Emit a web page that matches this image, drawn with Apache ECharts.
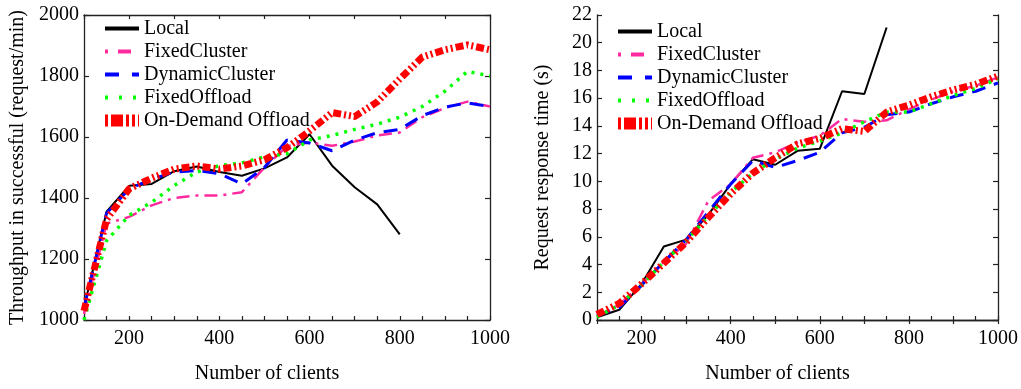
<!DOCTYPE html>
<html>
<head>
<meta charset="utf-8">
<script src="https://cdn.jsdelivr.net/npm/echarts@6/dist/echarts.min.js"></script>
<style>
  html, body { margin: 0; padding: 0; background: #fff; }
  #chart { width: 1021px; height: 389px; }
</style>
</head>
<body>
<div id="chart"></div>
<script>
// x values (number of clients)
const clients = [100, 150, 200, 250, 300, 350, 400, 450, 500, 550, 600, 650, 700, 750, 800, 850, 900, 950, 1000];

// left: throughput (request/min)
const tpLocal = [1040, 1355, 1440, 1446, 1488, 1503, 1485, 1473, 1497, 1533, 1609, 1506, 1435, 1379, 1281];
const tpFixedCluster = [1020, 1316, 1338, 1376, 1400, 1408, 1408, 1419, 1500, 1570, 1582, 1571, 1585, 1605, 1615, 1665, 1695, 1716, 1700];
const tpDynamicCluster = [1040, 1350, 1430, 1462, 1485, 1490, 1480, 1446, 1500, 1590, 1580, 1555, 1590, 1614, 1625, 1670, 1698, 1712, 1700];
const tpFixedOffload = [1000, 1260, 1343, 1386, 1441, 1485, 1506, 1515, 1535, 1545, 1590, 1605, 1625, 1642, 1665, 1700, 1750, 1815, 1800];
const tpOnDemand = [1030, 1330, 1430, 1465, 1495, 1505, 1495, 1505, 1525, 1565, 1620, 1680, 1667, 1715, 1790, 1862, 1886, 1902, 1886];

// right: request response time (s)
const rtLocal = [0.2, 0.74, 2.6, 5.3, 5.8, 7.6, 9.8, 11.6, 11.2, 12.2, 12.35, 16.5, 16.3, 21.1];
const rtFixedCluster = [0.3, 1.1, 2.6, 4.2, 5.5, 8.6, 9.8, 11.7, 12.1, 12.8, 13.3, 14.5, 14.3, 14.4, 15.2, 15.9, 16.5, 16.9, 17.5];
const rtDynamicCluster = [0.3, 0.9, 2.5, 4.2, 5.8, 7.8, 9.8, 11.5, 11.0, 11.5, 12.1, 13.5, 13.9, 14.8, 15.0, 15.6, 16.1, 16.5, 17.1];
const rtFixedOffload = [0.2, 1.1, 2.5, 4.2, 5.7, 7.5, 9.2, 10.6, 11.6, 12.4, 12.9, 13.5, 14.3, 15.0, 15.0, 15.6, 16.2, 16.7, 17.4];
const rtOnDemand = [0.4, 1.2, 2.6, 4.1, 5.6, 7.4, 9.1, 10.6, 11.7, 12.7, 13.1, 13.8, 13.6, 15.0, 15.5, 16.1, 16.6, 17.0, 17.6];

const names = ['Local', 'FixedCluster', 'DynamicCluster', 'FixedOffload', 'On-Demand Offload'];

const FONT = 'Liberation Serif';

// line styles, same order as names
const styles = [
  { color: '#000000', width: 2, type: 'solid' },
  { color: '#ff2aa0', width: 2.5, type: [13, 6, 3, 6] },
  { color: '#0000ff', width: 3, type: [14, 9] },
  { color: '#00ff00', width: 3.5, type: [3, 6] },
  { color: '#ff0000', width: 7, type: [8, 3, 2, 3, 2, 3] }
];

// legend samples are drawn a bit heavier, like the original
const legendStyles = [
  { width: 4, type: 'solid' },
  { width: 4, type: [3, 10, 13, 10] },
  { width: 4, type: [14, 13] },
  { width: 4, type: [3, 11] },
  { width: 12, type: [3, 3, 12, 3, 3, 3] }
];

const pairs = (vals) => vals.map((v, i) => [clients[i], v]);

const chart = echarts.init(document.getElementById('chart'));

const axisLine = { show: true, lineStyle: { color: '#222', width: 1.3 } };

function bottomX(gridIndex) {
  return {
    type: 'value', gridIndex, min: 100, max: 1000, interval: 50,
    position: 'bottom',
    name: 'Number of clients', nameLocation: 'middle', nameGap: 44,
    nameTextStyle: { fontFamily: FONT, fontSize: 20, color: '#000', padding: [0, 40, 0, 0] },
    axisLine,
    axisTick: { show: true, inside: true, length: 4, lineStyle: { color: '#222', width: 1.2 } },
    axisLabel: {
      fontFamily: FONT, fontSize: 20, color: '#000', margin: 9,
      formatter: (v) => (v % 200 === 0 ? String(v) : '')
    },
    splitLine: { show: false }
  };
}

function topX(gridIndex) {
  return {
    type: 'value', gridIndex, min: 100, max: 1000, interval: 100,
    position: 'top',
    axisLine,
    axisTick: { show: true, inside: true, length: 4, lineStyle: { color: '#222', width: 1.2 } },
    axisLabel: { show: false },
    splitLine: { show: false }
  };
}

function leftY(gridIndex, min, max, interval, name, nameGap) {
  return {
    type: 'value', gridIndex, min, max, interval,
    position: 'left',
    name, nameLocation: 'middle', nameGap,
    nameTextStyle: { fontFamily: FONT, fontSize: 20, color: '#000' },
    axisLine,
    axisTick: { show: true, inside: true, length: 5, lineStyle: { color: '#222', width: 1.2 } },
    axisLabel: { fontFamily: FONT, fontSize: 20, color: '#000', margin: 5, formatter: (v) => String(v) },
    splitLine: { show: false }
  };
}

function rightY(gridIndex, min, max, interval) {
  return {
    type: 'value', gridIndex, min, max, interval,
    position: 'right',
    axisLine,
    axisTick: { show: true, inside: true, length: 5, lineStyle: { color: '#222', width: 1.2 } },
    axisLabel: { show: false },
    splitLine: { show: false }
  };
}

function makeSeries(xIdx, yIdx, datasets) {
  return datasets.map((vals, i) => ({
    name: names[i],
    type: 'line',
    xAxisIndex: xIdx,
    yAxisIndex: yIdx,
    data: pairs(vals),
    symbol: 'none',
    smooth: false,
    animation: false,
    z: 2 + i,
    lineStyle: { color: styles[i].color, width: styles[i].width, type: styles[i].type, cap: 'butt' },
    itemStyle: { color: styles[i].color }
  }));
}

function legendAt(left, top) {
  return {
    orient: 'vertical',
    left, top,
    itemWidth: 34,
    itemHeight: 14,
    itemGap: 0,
    padding: 0,
    selectedMode: false,
    textStyle: { fontFamily: FONT, fontSize: 20, color: '#000', lineHeight: 23, padding: 0 },
    data: names.map((n, i) => ({
      name: n,
      itemStyle: { opacity: 0 },
      lineStyle: { width: legendStyles[i].width, type: legendStyles[i].type, color: styles[i].color, cap: 'butt' }
    }))
  };
}

const option = {
  backgroundColor: '#fff',
  animation: false,
  grid: [
    { left: 84, top: 15, width: 406, height: 307, containLabel: false },
    { left: 597, top: 15, width: 408, height: 307, containLabel: false }
  ],
  legend: [legendAt(99, 17), legendAt(612, 20)],
  xAxis: [bottomX(0), topX(0), bottomX(1), topX(1)],
  yAxis: [
    leftY(0, 1000, 2000, 200, 'Throughput in successful (request/min)', 56),
    rightY(0, 1000, 2000, 200),
    leftY(1, 0, 22, 2, 'Request response time (s)', 44),
    rightY(1, 0, 22, 2)
  ],
  series: [
    ...makeSeries(0, 0, [tpLocal, tpFixedCluster, tpDynamicCluster, tpFixedOffload, tpOnDemand]),
    ...makeSeries(2, 2, [rtLocal, rtFixedCluster, rtDynamicCluster, rtFixedOffload, rtOnDemand])
  ]
};

chart.setOption(option);
</script>
</body>
</html>
